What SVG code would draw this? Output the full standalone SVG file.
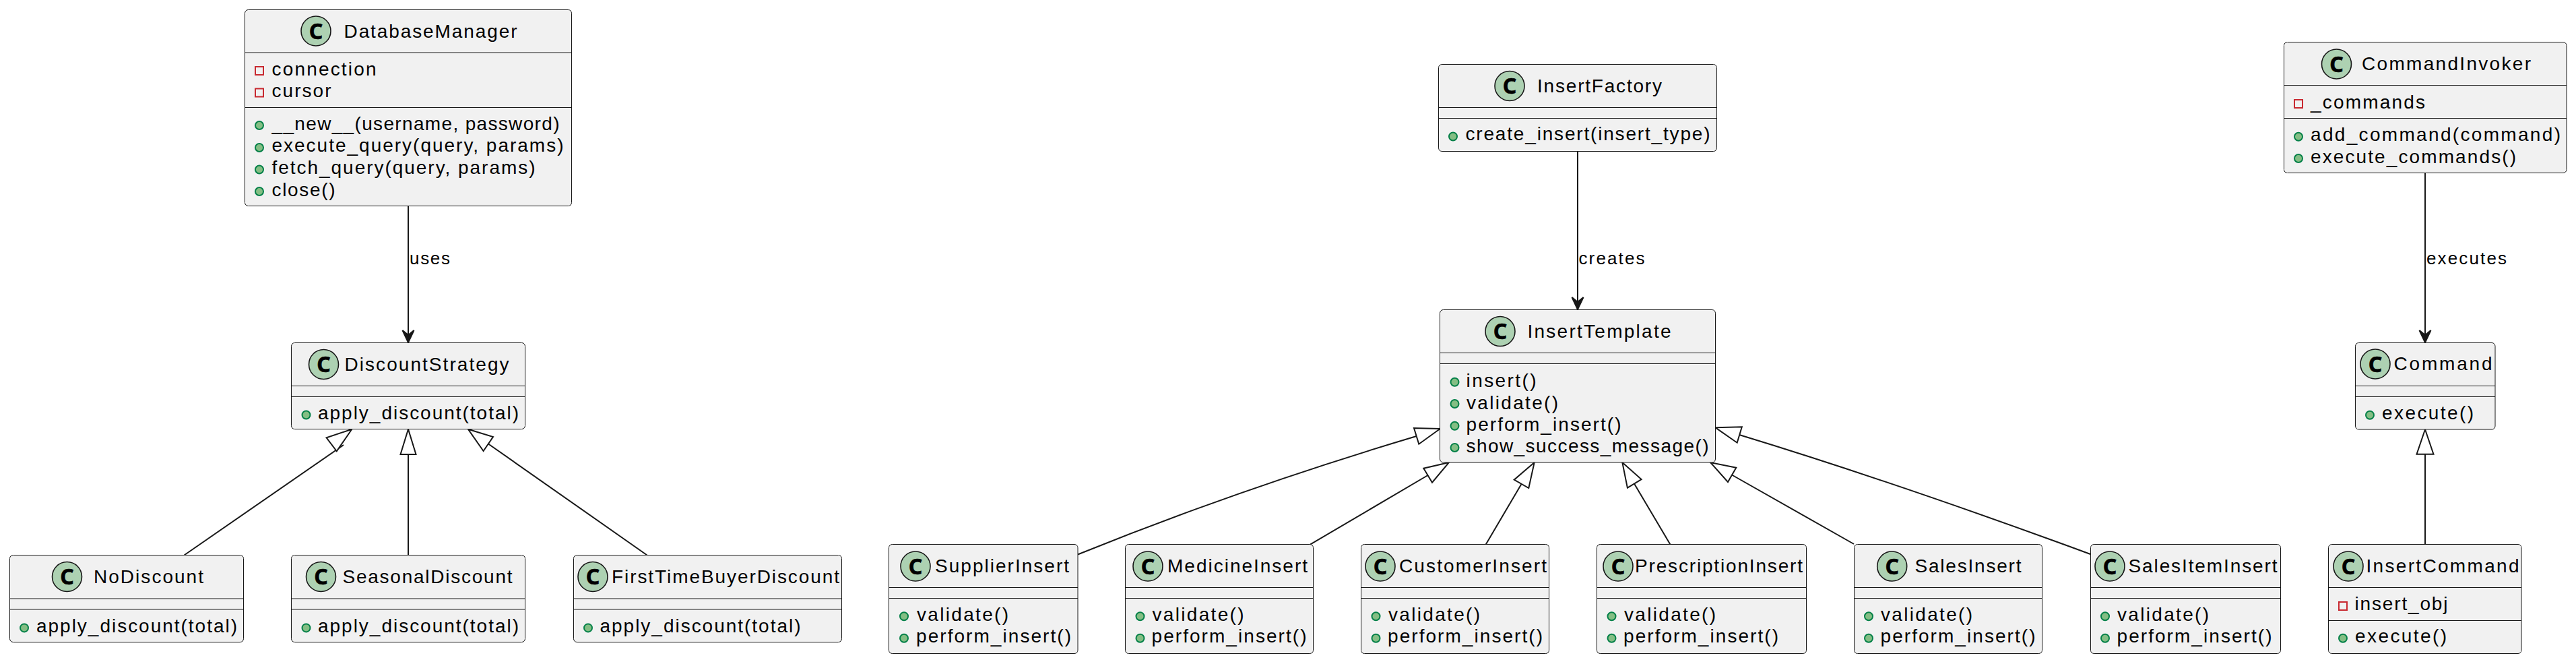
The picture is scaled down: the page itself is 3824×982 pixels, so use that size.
<svg xmlns="http://www.w3.org/2000/svg" width="3824" height="982" viewBox="0 0 3824 982">
<style>
text{font-family:"Liberation Sans",Arial,sans-serif;font-size:28px;fill:#000}
.box{fill:#F1F1F1;stroke:#181818;stroke-width:1}
.sep{stroke:#181818;stroke-width:1;fill:none}
.cc{fill:#ADD1B2;stroke:#181818;stroke-width:1.6}
.cl{font-family:"Noto Sans",sans-serif;font-weight:700;font-size:32px;text-anchor:middle;stroke:#000;stroke-width:.6}
.pub{fill:#84BE84;stroke:#038048;stroke-width:2}
.pri{fill:none;stroke:#C82930;stroke-width:2}
.lab{font-size:26px}
.ln{fill:none;stroke:#181818;stroke-width:2}
.ah{fill:#181818;stroke:#181818;stroke-width:2}
.ih{fill:#fff;stroke:#181818;stroke-width:2}
</style>
<rect width="3824" height="982" fill="#fff"/>
<g id="connectors">
<path class="ln" d="M606 306V498"/><path class="ah" d="M606 508L597.5 490L606 497L614.5 490Z"/>
<text class="lab" x="608" y="391.7" textLength="60">uses</text>
<path class="ln" d="M273.5 823.5L510 660"/><path class="ih" d="M522.3 636.7L484.6 649.3L499.8 669.3Z"/>
<path class="ln" d="M606 823.5V674"/><path class="ih" d="M606 636.7L594.5 674H617.5Z"/>
<path class="ln" d="M960.5 823.5L725 658.5"/><path class="ih" d="M695 636.7L732 648L717.6 669Z"/>
<path class="ln" d="M2342 224V450"/><path class="ah" d="M2342 459L2333.5 441L2342 448L2350.5 441Z"/>
<text class="lab" x="2343.5" y="391.7" textLength="98">creates</text>
<path class="ln" d="M1600 822.5C1767 755 1935 697 2102.7 647"/><path class="ih" d="M2137.8 636L2099 635L2106.3 658.7Z"/>
<path class="ln" d="M1945 807.7L2119.6 705"/><path class="ih" d="M2151 686L2113.3 694.7L2126 715.7Z"/>
<path class="ln" d="M2205.6 807.7L2258.5 718"/><path class="ih" d="M2277.7 686L2247.7 711.7L2269.3 724Z"/>
<path class="ln" d="M2479.5 807.7L2426 717.5"/><path class="ih" d="M2408.3 686L2436.6 711L2415.9 723.7Z"/>
<path class="ln" d="M2752 807L2571 704.5"/><path class="ih" d="M2539 686L2577.3 693.7L2565 715Z"/>
<path class="ln" d="M3103 822C2929 758 2756 698 2582 645"/><path class="ih" d="M2546.6 634.3L2585.8 633.3L2578.7 656.7Z"/>
<path class="ln" d="M3600 257V498"/><path class="ah" d="M3600 508L3591.5 490L3600 497L3608.5 490Z"/>
<text class="lab" x="3602" y="391.7" textLength="119">executes</text>
<path class="ln" d="M3600 807.7V674"/><path class="ih" d="M3600 637L3587.5 673.7H3612.5Z"/>
</g>
<g id="DatabaseManager">
<rect class="box" x="363.5" y="14.5" width="485" height="291" rx="5"/>
<path class="sep" d="M364 78H848M364 159.5H848"/>
<circle class="cc" cx="469" cy="46" r="22"/><text class="cl" x="469" y="57.5">C</text>
<text x="510.5" y="56" textLength="257">DatabaseManager</text>
<rect class="pri" x="379" y="99" width="12" height="12"/><text x="403.5" y="111.7" textLength="155">connection</text>
<rect class="pri" x="379" y="131.5" width="12" height="12"/><text x="403.5" y="144" textLength="88">cursor</text>
<circle class="pub" cx="385" cy="186" r="6"/><text x="403.5" y="192.7" textLength="427">__new__(username, password)</text>
<circle class="pub" cx="385" cy="219" r="6"/><text x="403.5" y="225.4" textLength="433">execute_query(query, params)</text>
<circle class="pub" cx="385" cy="251.5" r="6"/><text x="403.5" y="258" textLength="391">fetch_query(query, params)</text>
<circle class="pub" cx="385" cy="284" r="6"/><text x="403.5" y="290.6" textLength="94">close()</text>
</g>
<g id="DiscountStrategy">
<rect class="box" x="432.5" y="508.5" width="347" height="128" rx="5"/>
<path class="sep" d="M433 572.5H779M433 588.5H779"/>
<circle class="cc" cx="480.5" cy="540.5" r="22"/><text class="cl" x="480.5" y="552">C</text>
<text x="511.5" y="550" textLength="244">DiscountStrategy</text>
<circle class="pub" cx="454.5" cy="615.5" r="6"/><text x="472" y="621.7" textLength="298">apply_discount(total)</text>
</g>
<g id="NoDiscount">
<rect class="box" x="14.5" y="823.5" width="347" height="129" rx="5"/>
<path class="sep" d="M15 888H361M15 904H361"/>
<circle class="cc" cx="99.5" cy="855.5" r="22"/><text class="cl" x="99.5" y="867">C</text>
<text x="139" y="865" textLength="163">NoDiscount</text>
<circle class="pub" cx="36" cy="931.4" r="6"/><text x="54" y="937.7" textLength="298">apply_discount(total)</text>
</g>
<g id="SeasonalDiscount">
<rect class="box" x="432.5" y="823.5" width="347" height="129" rx="5"/>
<path class="sep" d="M433 888H779M433 904H779"/>
<circle class="cc" cx="476.5" cy="855.5" r="22"/><text class="cl" x="476.5" y="867">C</text>
<text x="508.5" y="865" textLength="252">SeasonalDiscount</text>
<circle class="pub" cx="454.5" cy="931.4" r="6"/><text x="472" y="937.7" textLength="298">apply_discount(total)</text>
</g>
<g id="FirstTimeBuyerDiscount">
<rect class="box" x="851.5" y="823.5" width="398" height="129" rx="5"/>
<path class="sep" d="M852 888H1249M852 904H1249"/>
<circle class="cc" cx="880" cy="855.5" r="22"/><text class="cl" x="880" y="867">C</text>
<text x="908" y="865" textLength="338">FirstTimeBuyerDiscount</text>
<circle class="pub" cx="873" cy="931.4" r="6"/><text x="890.5" y="937.7" textLength="298">apply_discount(total)</text>
</g>
<g id="InsertFactory">
<rect class="box" x="2135.5" y="95.5" width="413" height="129" rx="5"/>
<path class="sep" d="M2136 159.5H2548M2136 175.5H2548"/>
<circle class="cc" cx="2241" cy="127.5" r="22"/><text class="cl" x="2241" y="139">C</text>
<text x="2282" y="137.3" textLength="185">InsertFactory</text>
<circle class="pub" cx="2157" cy="202.5" r="6"/><text x="2175.5" y="208.3" textLength="363">create_insert(insert_type)</text>
</g>
<g id="InsertTemplate">
<rect class="box" x="2137.5" y="459.5" width="409" height="226.5" rx="5"/>
<path class="sep" d="M2138 523.5H2546M2138 539.5H2546"/>
<circle class="cc" cx="2227" cy="491.5" r="22"/><text class="cl" x="2227" y="503">C</text>
<text x="2267.5" y="500.7" textLength="213">InsertTemplate</text>
<circle class="pub" cx="2159.5" cy="566.7" r="6"/><text x="2176.5" y="574" textLength="104">insert()</text>
<circle class="pub" cx="2159.5" cy="599" r="6"/><text x="2177" y="606.7" textLength="136">validate()</text>
<circle class="pub" cx="2159.5" cy="631.7" r="6"/><text x="2176.5" y="639.3" textLength="230">perform_insert()</text>
<circle class="pub" cx="2159.5" cy="664" r="6"/><text x="2176.5" y="671" textLength="360">show_success_message()</text>
</g>
<g id="SupplierInsert">
<rect class="box" x="1319.5" y="807.5" width="280.5" height="162" rx="5"/>
<path class="sep" d="M1320 871.5H1600M1320 887.5H1600"/>
<circle class="cc" cx="1359" cy="840" r="22"/><text class="cl" x="1359" y="851.5">C</text>
<text x="1388" y="849" textLength="199">SupplierInsert</text>
<circle class="pub" cx="1342" cy="914.3" r="6"/><text x="1361" y="920.7" textLength="136">validate()</text>
<circle class="pub" cx="1342" cy="946.7" r="6"/><text x="1360" y="953" textLength="230">perform_insert()</text>
</g>
<g id="MedicineInsert">
<rect class="box" x="1670.5" y="807.5" width="279" height="162" rx="5"/>
<path class="sep" d="M1671 871.5H1949M1671 887.5H1949"/>
<circle class="cc" cx="1704" cy="840" r="22"/><text class="cl" x="1704" y="851.5">C</text>
<text x="1733" y="849" textLength="208">MedicineInsert</text>
<circle class="pub" cx="1692.5" cy="914.3" r="6"/><text x="1710.5" y="920.7" textLength="136">validate()</text>
<circle class="pub" cx="1692.5" cy="946.7" r="6"/><text x="1709.5" y="953" textLength="230">perform_insert()</text>
</g>
<g id="CustomerInsert">
<rect class="box" x="2020.5" y="807.5" width="279" height="162" rx="5"/>
<path class="sep" d="M2021 871.5H2299M2021 887.5H2299"/>
<circle class="cc" cx="2049" cy="840" r="22"/><text class="cl" x="2049" y="851.5">C</text>
<text x="2077" y="849" textLength="219">CustomerInsert</text>
<circle class="pub" cx="2042.5" cy="914.3" r="6"/><text x="2061" y="920.7" textLength="136">validate()</text>
<circle class="pub" cx="2042.5" cy="946.7" r="6"/><text x="2060" y="953" textLength="230">perform_insert()</text>
</g>
<g id="PrescriptionInsert">
<rect class="box" x="2370.5" y="807.5" width="311" height="162" rx="5"/>
<path class="sep" d="M2371 871.5H2681M2371 887.5H2681"/>
<circle class="cc" cx="2402" cy="840" r="22"/><text class="cl" x="2402" y="851.5">C</text>
<text x="2427" y="849" textLength="249">PrescriptionInsert</text>
<circle class="pub" cx="2392.5" cy="914.3" r="6"/><text x="2411" y="920.7" textLength="136">validate()</text>
<circle class="pub" cx="2392.5" cy="946.7" r="6"/><text x="2410" y="953" textLength="230">perform_insert()</text>
</g>
<g id="SalesInsert">
<rect class="box" x="2752.5" y="807.5" width="279" height="162" rx="5"/>
<path class="sep" d="M2753 871.5H3031M2753 887.5H3031"/>
<circle class="cc" cx="2808.7" cy="840" r="22"/><text class="cl" x="2808.7" y="851.5">C</text>
<text x="2842.5" y="849" textLength="158">SalesInsert</text>
<circle class="pub" cx="2774" cy="914.3" r="6"/><text x="2792" y="920.7" textLength="136">validate()</text>
<circle class="pub" cx="2774" cy="946.7" r="6"/><text x="2791.5" y="953" textLength="230">perform_insert()</text>
</g>
<g id="SalesItemInsert">
<rect class="box" x="3103.5" y="807.5" width="282" height="162" rx="5"/>
<path class="sep" d="M3104 871.5H3385M3104 887.5H3385"/>
<circle class="cc" cx="3132" cy="840" r="22"/><text class="cl" x="3132" y="851.5">C</text>
<text x="3159.5" y="849" textLength="221">SalesItemInsert</text>
<circle class="pub" cx="3125" cy="914.3" r="6"/><text x="3143" y="920.7" textLength="136">validate()</text>
<circle class="pub" cx="3125" cy="946.7" r="6"/><text x="3142.5" y="953" textLength="230">perform_insert()</text>
</g>
<g id="CommandInvoker">
<rect class="box" x="3390.5" y="62.5" width="419.5" height="194" rx="5"/>
<path class="sep" d="M3391 126.5H3810M3391 175.5H3810"/>
<circle class="cc" cx="3468.5" cy="95" r="22"/><text class="cl" x="3468.5" y="106.5">C</text>
<text x="3506" y="104.3" textLength="251">CommandInvoker</text>
<rect class="pri" x="3406" y="148" width="12" height="12"/><text x="3430" y="160.7" textLength="170">_commands</text>
<circle class="pub" cx="3412" cy="202.7" r="6"/><text x="3430" y="209" textLength="371">add_command(command)</text>
<circle class="pub" cx="3412" cy="235" r="6"/><text x="3430" y="241.5" textLength="305">execute_commands()</text>
</g>
<g id="Command">
<rect class="box" x="3496.5" y="508.5" width="207.5" height="128.5" rx="5"/>
<path class="sep" d="M3497 572.5H3704M3497 588.5H3704"/>
<circle class="cc" cx="3526" cy="540" r="22"/><text class="cl" x="3526" y="551.5">C</text>
<text x="3553.5" y="549" textLength="146">Command</text>
<circle class="pub" cx="3518" cy="615.7" r="6"/><text x="3536" y="621.7" textLength="136">execute()</text>
</g>
<g id="InsertCommand">
<rect class="box" x="3456.5" y="807.5" width="286.5" height="162" rx="5"/>
<path class="sep" d="M3457 871.5H3743M3457 920.5H3743"/>
<circle class="cc" cx="3486" cy="840" r="22"/><text class="cl" x="3486" y="851.5">C</text>
<text x="3512.5" y="849" textLength="227">InsertCommand</text>
<rect class="pri" x="3472" y="893" width="12" height="12"/><text x="3495.5" y="905" textLength="138">insert_obj</text>
<circle class="pub" cx="3478" cy="946.7" r="6"/><text x="3496" y="953.3" textLength="136">execute()</text>
</g>
</svg>
